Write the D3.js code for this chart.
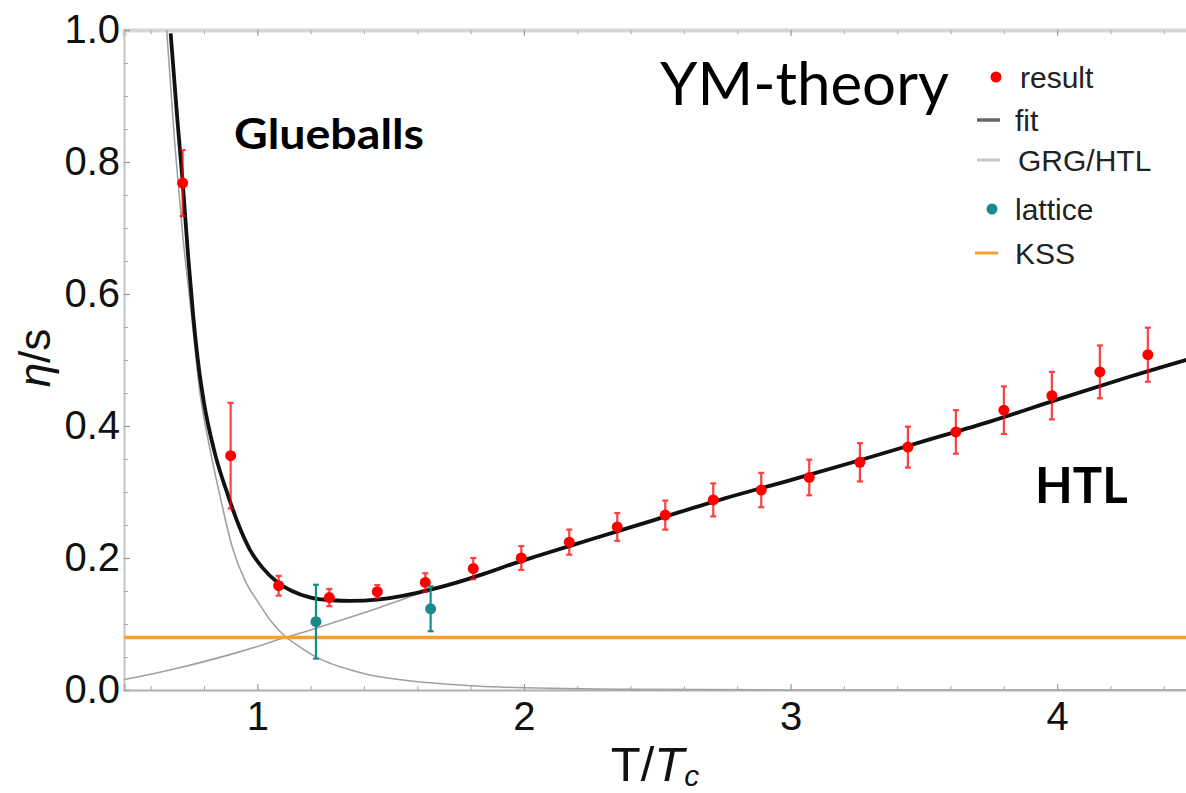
<!DOCTYPE html>
<html><head><meta charset="utf-8">
<script src="https://cdn.jsdelivr.net/npm/d3@7"></script>
<style>body{margin:0;background:#fff}</style>
</head><body><svg id="c" width="1186" height="793"></svg>
<script>
// ---- data ----
const resultT   = [0.72,0.90,1.08,1.27,1.45,1.63,1.81,1.99,2.17,2.35,2.53,2.71,2.89,3.07,3.26,3.44,3.62,3.80,3.98,4.16,4.34];
const resultEta = [0.768,0.355,0.158,0.140,0.149,0.163,0.184,0.200,0.224,0.247,0.265,0.288,0.303,0.322,0.345,0.368,0.391,0.424,0.446,0.482,0.508];
const resultErr = [0.050,0.080,0.015,0.013,0.010,0.014,0.016,0.018,0.019,0.021,0.022,0.025,0.026,0.027,0.029,0.031,0.033,0.036,0.036,0.040,0.041];

const latticeT   = [1.22, 1.65];
const latticeEta = [0.1035, 0.123];
const latticeErr = [0.056, 0.034];

const fitT   = [0.675,0.70,0.72,0.74,0.76,0.78,0.80,0.84,0.89,0.93,0.973,1.02,1.073,1.13,1.20,1.28,1.35,1.45,1.55,1.65,1.75,1.85,1.95,2.05,2.25,2.50,2.75,3.00,3.25,3.50,3.75,4.00,4.25,4.50];
const fitEta = [0.995,0.865,0.770,0.660,0.565,0.490,0.435,0.360,0.295,0.250,0.212,0.185,0.164,0.150,0.140,0.136,0.135,0.137,0.143,0.152,0.163,0.176,0.190,0.203,0.228,0.259,0.290,0.318,0.347,0.377,0.407,0.440,0.472,0.502];

const grgT   = [0.66,0.69,0.72,0.75,0.785,0.825,0.865,0.905,0.955,1.00,1.05,1.10,1.16,1.24,1.32,1.41,1.53,1.66,1.80,1.91,2.10,2.40,3.00,4.50];
const grgEta = [1.00,0.83,0.69,0.58,0.45,0.36,0.285,0.218,0.165,0.135,0.105,0.083,0.065,0.046,0.034,0.024,0.016,0.0105,0.0065,0.0045,0.0025,0.001,0.0,0.0];

const htlT   = [0.50,0.60,0.70,0.80,0.90,1.00,1.10,1.20,1.30,1.40,1.50,1.60,1.70,1.80,1.90,2.00,2.25,2.50,2.75,3.00,3.25,3.50,3.75,4.00,4.25,4.50];
const htlEta = [0.016,0.024,0.033,0.043,0.054,0.066,0.079,0.091,0.104,0.117,0.131,0.145,0.158,0.171,0.184,0.197,0.228,0.259,0.290,0.318,0.347,0.377,0.407,0.440,0.472,0.502];

const kssValue = 0.0796;

const yTicks = [0.0,0.2,0.4,0.6,0.8,1.0];
const xTicks = [1,2,3,4];
const yMinor = [0.05,0.1,0.15,0.25,0.3,0.35,0.45,0.5,0.55,0.65,0.7,0.75,0.85,0.9,0.95];
const xMinor = [0.6,0.8,1.2,1.4,1.6,1.8,2.2,2.4,2.6,2.8,3.2,3.4,3.6,3.8,4.2,4.4];

const legendLabels = ["result","fit","GRG/HTL","lattice","KSS"];

// ---- drawing ----
const svg = d3.select("#c");
const x = d3.scaleLinear().domain([0.5,4.5]).range([124,1190.5]);
const y = d3.scaleLinear().domain([0,1]).range([690,30]);

const red = "#ff0000", teal = "#198a8b", orange = "#f5a032";

svg.append("defs").append("clipPath").attr("id","clip")
  .append("rect").attr("x",124).attr("y",30).attr("width",1070).attr("height",660);

function styleAxis(g, color, width){
  g.select(".domain").attr("stroke", color).attr("stroke-width", width);
  g.selectAll(".tick line").attr("stroke", "#9a9a9a").attr("stroke-width", 1.2);
  g.selectAll(".tick text").attr("font-family","Liberation Sans, Arial, sans-serif").attr("font-size",40).attr("fill","#111");
}
// top frame
const gTop = svg.append("g").attr("transform","translate(0,30)")
  .call(d3.axisTop(x).tickValues(xTicks).tickSize(-6).tickFormat(""));
styleAxis(gTop, "#d6d6d6", 4);
svg.append("g").attr("transform","translate(0,30)")
  .call(d3.axisTop(x).tickValues(xMinor).tickSize(-4).tickFormat(""))
  .call(g=>{g.select(".domain").remove(); g.selectAll(".tick line").attr("stroke","#aaa");});

const gLeft = svg.append("g").attr("transform","translate(124,0)")
  .call(d3.axisLeft(y).tickValues(yTicks).tickSize(-6).tickPadding(4).tickFormat(d3.format(".1f")));
styleAxis(gLeft, "#c4c4c4", 2);
svg.append("g").attr("transform","translate(124,0)")
  .call(d3.axisLeft(y).tickValues(yMinor).tickSize(-4).tickFormat(""))
  .call(g=>{g.select(".domain").remove(); g.selectAll(".tick line").attr("stroke","#aaa");});

const gBot = svg.append("g").attr("transform","translate(0,690)")
  .call(d3.axisBottom(x).tickValues(xTicks).tickSize(-6).tickPadding(12).tickFormat(d3.format("d")));
styleAxis(gBot, "#b0b0b0", 2);
svg.append("g").attr("transform","translate(0,690)")
  .call(d3.axisBottom(x).tickValues(xMinor).tickSize(-4).tickFormat(""))
  .call(g=>{g.select(".domain").remove(); g.selectAll(".tick line").attr("stroke","#aaa");});

// axis titles
const xl = svg.append("text").attr("x",655).attr("y",781).attr("text-anchor","middle")
  .attr("font-family","Liberation Sans, Arial, sans-serif").attr("font-size",49).attr("fill","#111");
xl.append("tspan").text("T/");
xl.append("tspan").attr("font-style","italic").text("T");
xl.append("tspan").attr("font-style","italic").attr("font-size",30).attr("dy",5).text("c");

svg.append("text").attr("transform","translate(50,358) rotate(-90)").attr("text-anchor","middle")
  .attr("font-family","Liberation Sans, Arial, sans-serif").attr("font-size",44).attr("fill","#111")
  .call(t=>{t.append("tspan").attr("font-style","italic").text("η"); t.append("tspan").text("/s");});

// plot content
const plot = svg.append("g").attr("clip-path","url(#clip)");
const line = d3.line().x(d=>x(d[0])).y(d=>y(d[1])).curve(d3.curveMonotoneX);

plot.append("path").datum(d3.zip(grgT,grgEta)).attr("d",line)
  .attr("fill","none").attr("stroke","#a0a0a0").attr("stroke-width",1.6);
plot.append("path").datum(d3.zip(htlT,htlEta)).attr("d",line)
  .attr("fill","none").attr("stroke","#a0a0a0").attr("stroke-width",1.6);
plot.append("path").datum(d3.zip(fitT,fitEta)).attr("d",line)
  .attr("fill","none").attr("stroke","#111").attr("stroke-width",3.8);

plot.append("line").attr("x1",x(0.5)).attr("x2",x(4.5)).attr("y1",y(kssValue)).attr("y2",y(kssValue))
  .attr("stroke",orange).attr("stroke-width",3.6);

function errorBars(T, V, E, color, opacity){
  const data = d3.zip(T,V,E);
  const g = plot.append("g").attr("stroke",color).attr("stroke-width",2.2).attr("opacity",opacity);
  g.selectAll("line.v").data(data).join("line").attr("class","v")
    .attr("x1",d=>x(d[0])).attr("x2",d=>x(d[0])).attr("y1",d=>y(d[1]-d[2])).attr("y2",d=>y(d[1]+d[2]));
  g.selectAll("line.t").data(data).join("line").attr("class","t")
    .attr("x1",d=>x(d[0])-3).attr("x2",d=>x(d[0])+3).attr("y1",d=>y(d[1]+d[2])).attr("y2",d=>y(d[1]+d[2]));
  g.selectAll("line.b").data(data).join("line").attr("class","b")
    .attr("x1",d=>x(d[0])-3).attr("x2",d=>x(d[0])+3).attr("y1",d=>y(d[1]-d[2])).attr("y2",d=>y(d[1]-d[2]));
  plot.append("g").selectAll("circle").data(data).join("circle")
    .attr("cx",d=>x(d[0])).attr("cy",d=>y(d[1])).attr("r",5.5).attr("fill",color);
}
errorBars(resultT, resultEta, resultErr, red, 0.75);
errorBars(latticeT, latticeEta, latticeErr, teal, 1);

// annotations
svg.append("text").attr("x",660).attr("y",105).attr("font-family","Lato, 'Open Sans', sans-serif")
  .attr("font-size",60).attr("fill","#000").text("YM-theory");
svg.append("text").attr("x",234).attr("y",149).attr("font-family","Lato, 'Open Sans', sans-serif")
  .attr("font-weight","bold").attr("font-size",42).attr("textLength",190).attr("lengthAdjust","spacingAndGlyphs")
  .attr("fill","#000").text("Glueballs");
svg.append("text").attr("x",1035).attr("y",503).attr("font-family","Lato, 'Open Sans', sans-serif")
  .attr("font-weight","bold").attr("font-size",49).attr("fill","#000").text("HTL");

// legend
const lg = svg.append("g").attr("font-family","Liberation Sans, Arial, sans-serif").attr("font-size",30).attr("fill","#222");
const legY = [77,120,160,209,253];
const legTextX = [1020,1015,1018,1015,1015];
lg.append("circle").attr("cx",996).attr("cy",legY[0]).attr("r",5.5).attr("fill",red);
lg.append("line").attr("x1",977).attr("x2",1000).attr("y1",legY[1]).attr("y2",legY[1]).attr("stroke","#666").attr("stroke-width",3.5);
lg.append("line").attr("x1",977).attr("x2",1000).attr("y1",legY[2]).attr("y2",legY[2]).attr("stroke","#c8c8c8").attr("stroke-width",3);
lg.append("circle").attr("cx",992).attr("cy",legY[3]).attr("r",5.5).attr("fill",teal);
lg.append("line").attr("x1",975).attr("x2",998).attr("y1",legY[4]).attr("y2",legY[4]).attr("stroke",orange).attr("stroke-width",3);
lg.selectAll("text").data(legendLabels).join("text")
  .attr("x",(d,i)=>legTextX[i]).attr("y",(d,i)=>legY[i]).attr("dy","0.35em").text(d=>d);
</script></body></html>
